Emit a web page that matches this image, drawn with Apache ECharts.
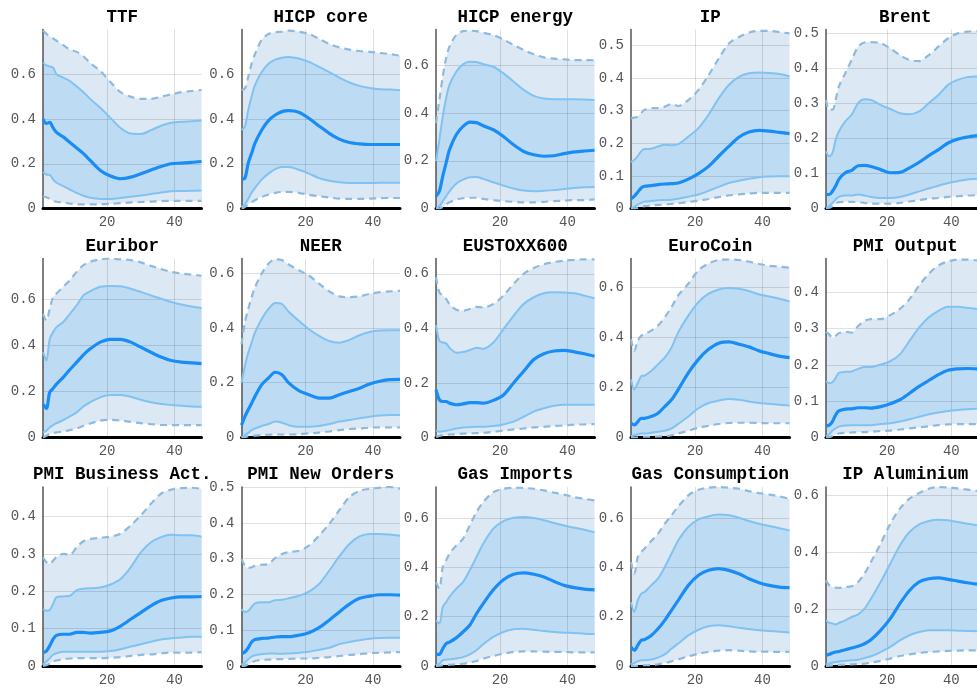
<!DOCTYPE html>
<html>
<head>
<meta charset="utf-8">
<title>Impulse responses</title>
<script src="https://cdn.jsdelivr.net/npm/echarts@6/dist/echarts.min.js"></script>
<style>
  html, body { margin: 0; padding: 0; background: #fff; }
  #chart { width: 977px; height: 691px; }
</style>
</head>
<body>
<div id="chart"></div>
<script>
// Forecast horizons at which the responses are recorded
const horizons = [1, 2, 3, 4, 5, 7, 9, 11, 13, 15, 18, 21, 24, 27, 30, 33, 36, 39, 42, 45, 48];

// TTF
const ttf_lo95 = [.055,.05,.043,.035,.03,.026,.022,.019,.018,.018,.019,.021,.024,.027,.029,.031,.033,.034,.034,.034,.034];
const ttf_lo68 = [.163,.152,.15,.13,.115,.10,.085,.07,.057,.048,.043,.043,.047,.053,.058,.065,.072,.077,.078,.079,.08];
const ttf_med  = [.40,.38,.385,.36,.34,.32,.295,.27,.245,.215,.17,.145,.133,.14,.155,.172,.188,.20,.203,.206,.21];
const ttf_hi68 = [.652,.64,.635,.63,.60,.585,.57,.545,.52,.49,.45,.405,.36,.335,.333,.35,.37,.383,.388,.39,.393];
const ttf_hi95 = [.795,.78,.77,.76,.75,.73,.71,.70,.68,.65,.615,.565,.52,.50,.49,.49,.50,.51,.52,.525,.53];

// HICP core
const core_lo95 = [0,.007,.018,.028,.037,.052,.062,.07,.074,.074,.07,.061,.055,.049,.044,.043,.043,.044,.046,.047,.047];
const core_lo68 = [.007,.018,.043,.07,.092,.129,.156,.176,.185,.185,.173,.156,.136,.124,.117,.114,.114,.114,.115,.115,.115];
const core_med  = [.132,.136,.203,.247,.292,.351,.393,.418,.433,.437,.43,.403,.369,.336,.31,.295,.289,.286,.286,.286,.286];
const core_hi68 = [.351,.366,.44,.50,.551,.61,.647,.665,.674,.677,.67,.655,.633,.61,.585,.563,.548,.539,.533,.532,.529];
const core_hi95 = [.529,.536,.588,.647,.69,.754,.78,.788,.79,.795,.79,.78,.758,.736,.72,.71,.704,.70,.695,.69,.683];

// HICP energy
const energy_lo95 = [0,0,.007,.017,.026,.038,.043,.045,.045,.04,.035,.031,.028,.026,.026,.028,.031,.033,.035,.035,.038];
const energy_lo68 = [0,.01,.031,.051,.072,.104,.121,.131,.132,.124,.11,.096,.084,.075,.072,.074,.077,.082,.086,.089,.09];
const energy_med  = [.051,.072,.135,.191,.246,.309,.344,.362,.36,.347,.33,.302,.267,.239,.225,.219,.221,.23,.237,.241,.244];
const energy_hi68 = [.198,.288,.386,.462,.518,.573,.604,.615,.614,.605,.594,.566,.532,.497,.472,.461,.458,.458,.458,.457,.455];
const energy_hi95 = [.358,.455,.553,.63,.678,.727,.743,.745,.743,.736,.727,.708,.685,.664,.646,.633,.628,.625,.622,.622,.621];

// IP
const ip_lo95 = [0,0,.002,.005,.007,.009,.011,.012,.014,.016,.02,.024,.029,.035,.04,.043,.046,.048,.048,.048,.048];
const ip_lo68 = [0,.005,.012,.017,.021,.023,.025,.026,.027,.03,.036,.043,.054,.066,.078,.085,.091,.096,.098,.099,.099];
const ip_med  = [.03,.038,.05,.063,.068,.07,.073,.075,.076,.078,.09,.107,.129,.16,.19,.218,.234,.239,.237,.233,.229];
const ip_hi68 = [.142,.149,.16,.175,.182,.183,.19,.195,.194,.197,.22,.246,.287,.337,.378,.403,.414,.416,.415,.412,.405];
const ip_hi95 = [.276,.278,.281,.292,.302,.307,.307,.312,.32,.314,.332,.363,.408,.459,.505,.525,.539,.544,.544,.54,.536];

// Brent
const brent_lo95 = [0,.002,.007,.014,.018,.019,.019,.018,.016,.014,.014,.014,.016,.02,.024,.028,.03,.033,.035,.037,.038];
const brent_lo68 = [0,.007,.016,.026,.033,.037,.037,.04,.037,.033,.03,.03,.033,.04,.049,.057,.065,.073,.078,.083,.085];
const brent_med  = [.04,.04,.049,.064,.083,.102,.109,.122,.123,.12,.111,.102,.103,.116,.132,.151,.168,.187,.198,.204,.208];
const brent_hi68 = [.163,.149,.158,.196,.22,.249,.268,.301,.312,.31,.296,.284,.272,.269,.277,.301,.324,.353,.367,.375,.377];
const brent_hi95 = [.31,.282,.282,.31,.348,.386,.424,.462,.474,.475,.472,.457,.438,.424,.421,.438,.462,.486,.50,.505,.507];

// Euribor
const euribor_lo95 = [0,.007,.015,.019,.022,.026,.032,.039,.051,.061,.073,.077,.074,.068,.062,.058,.055,.054,.054,.054,.054];
const euribor_lo68 = [.022,.029,.044,.054,.062,.076,.092,.109,.135,.153,.174,.184,.184,.177,.164,.153,.145,.141,.138,.135,.134];
const euribor_med  = [.145,.126,.196,.213,.232,.261,.295,.327,.359,.385,.414,.426,.426,.414,.392,.37,.349,.334,.327,.324,.321];
const euribor_hi68 = [.37,.334,.428,.458,.479,.501,.537,.574,.617,.635,.654,.658,.657,.646,.632,.617,.603,.588,.577,.569,.562];
const euribor_hi95 = [.537,.508,.559,.61,.625,.654,.683,.719,.748,.763,.773,.777,.773,.77,.76,.745,.731,.719,.712,.707,.702];

// NEER
const neer_lo95 = [0,.002,.005,.006,.007,.009,.01,.011,.011,.011,.012,.015,.018,.022,.027,.031,.033,.036,.037,.037,.037];
const neer_lo68 = [0,.009,.017,.027,.033,.042,.049,.058,.054,.045,.039,.039,.042,.049,.058,.064,.07,.076,.08,.082,.082];
const neer_med  = [.045,.076,.101,.125,.15,.193,.217,.238,.229,.199,.171,.156,.144,.144,.156,.168,.18,.195,.205,.211,.212];
const neer_hi68 = [.199,.26,.309,.346,.383,.432,.469,.491,.487,.459,.426,.395,.371,.352,.346,.356,.373,.385,.39,.391,.391];
const neer_hi95 = [.34,.42,.469,.512,.548,.598,.634,.65,.647,.631,.61,.591,.561,.533,.515,.512,.515,.524,.53,.533,.535];

// EUSTOXX600
const stoxx_lo95 = [.002,.006,.009,.01,.011,.012,.014,.015,.016,.017,.021,.025,.03,.033,.037,.039,.042,.044,.047,.048,.049];
const stoxx_lo68 = [.025,.021,.023,.025,.027,.033,.037,.038,.039,.039,.042,.048,.058,.076,.095,.107,.116,.12,.12,.12,.12];
const stoxx_med  = [.175,.138,.132,.132,.126,.12,.123,.128,.128,.126,.136,.156,.2,.243,.286,.307,.317,.319,.314,.307,.298];
const stoxx_hi68 = [.412,.354,.348,.345,.329,.311,.313,.32,.329,.325,.348,.397,.446,.489,.514,.529,.532,.531,.529,.52,.51];
const stoxx_hi95 = [.588,.532,.52,.508,.489,.468,.465,.471,.479,.477,.489,.52,.563,.60,.621,.635,.643,.648,.651,.653,.653];

// EuroCoin
const coin_lo95 = [0,0,.001,.003,.003,.003,.004,.005,.009,.016,.027,.039,.047,.054,.058,.059,.059,.058,.057,.057,.057];
const coin_lo68 = [.005,.009,.013,.016,.016,.019,.023,.027,.036,.054,.084,.117,.138,.148,.154,.151,.144,.138,.135,.131,.128];
const coin_med  = [.057,.05,.063,.077,.077,.084,.097,.124,.151,.192,.259,.313,.353,.378,.383,.374,.363,.347,.336,.326,.32];
const coin_hi68 = [.232,.192,.218,.245,.248,.266,.293,.32,.36,.421,.488,.542,.576,.593,.599,.596,.587,.573,.565,.556,.545];
const coin_hi95 = [.394,.347,.387,.407,.414,.428,.448,.481,.522,.569,.616,.67,.697,.711,.713,.711,.704,.695,.688,.684,.68];

// PMI Output
const pmio_lo95 = [0,.001,.004,.008,.011,.013,.014,.015,.015,.016,.018,.019,.022,.025,.028,.031,.034,.036,.037,.037,.037];
const pmio_lo68 = [.002,.009,.019,.025,.03,.033,.034,.034,.034,.034,.037,.039,.044,.05,.057,.064,.069,.073,.076,.078,.079];
const pmio_med  = [.032,.034,.044,.062,.073,.078,.079,.082,.082,.081,.085,.093,.104,.122,.141,.157,.173,.185,.189,.19,.189];
const pmio_hi68 = [.155,.15,.152,.164,.178,.181,.182,.189,.194,.194,.201,.21,.229,.266,.303,.331,.349,.36,.36,.357,.354];
const pmio_hi95 = [.291,.284,.275,.28,.287,.291,.289,.307,.321,.326,.326,.337,.354,.381,.419,.451,.474,.485,.49,.49,.488];

// PMI Business Act.
const pmib_lo95 = [0,.002,.006,.012,.015,.018,.02,.021,.021,.021,.021,.022,.024,.027,.03,.031,.034,.036,.036,.036,.037];
const pmib_lo68 = [.004,.012,.021,.03,.034,.038,.038,.038,.038,.038,.038,.04,.045,.052,.058,.065,.071,.074,.076,.078,.078];
const pmib_med  = [.036,.04,.054,.072,.082,.085,.085,.09,.09,.088,.09,.094,.107,.125,.143,.161,.175,.182,.185,.185,.186];
const pmib_hi68 = [.152,.148,.15,.166,.184,.186,.188,.203,.207,.208,.21,.218,.233,.264,.304,.331,.345,.351,.35,.35,.346];
const pmib_hi95 = [.291,.278,.273,.282,.291,.30,.298,.318,.334,.34,.343,.346,.354,.376,.403,.434,.461,.472,.476,.477,.474];

// PMI New Orders
const pmin_lo95 = [0,.001,.005,.009,.014,.017,.018,.019,.019,.02,.021,.021,.023,.025,.028,.031,.033,.036,.037,.038,.039];
const pmin_lo68 = [.003,.009,.019,.026,.03,.033,.035,.035,.034,.035,.037,.04,.045,.051,.061,.067,.072,.076,.078,.079,.079];
const pmin_med  = [.035,.039,.051,.067,.074,.077,.078,.081,.082,.082,.086,.093,.107,.128,.151,.173,.189,.195,.199,.199,.198];
const pmin_hi68 = [.159,.151,.154,.165,.175,.178,.178,.184,.185,.189,.196,.208,.229,.266,.306,.341,.362,.369,.369,.367,.364];
const pmin_hi95 = [.299,.28,.274,.276,.28,.283,.285,.302,.313,.318,.322,.336,.364,.397,.435,.472,.489,.495,.498,.50,.495];

// Gas Imports
const gimp_lo95 = [0,.001,.003,.004,.005,.007,.009,.014,.02,.03,.041,.05,.057,.059,.059,.058,.057,.057,.055,.055,.055];
const gimp_lo68 = [.003,.009,.023,.026,.027,.03,.036,.047,.064,.088,.118,.138,.149,.151,.147,.142,.138,.135,.134,.131,.13];
const gimp_med  = [.047,.047,.07,.091,.097,.114,.138,.165,.212,.253,.309,.35,.372,.378,.372,.361,.343,.327,.318,.312,.309];
const gimp_hi68 = [.185,.172,.239,.259,.28,.314,.34,.388,.442,.496,.557,.588,.601,.604,.60,.591,.58,.57,.561,.553,.543];
const gimp_hi95 = [.34,.314,.401,.428,.455,.489,.516,.57,.624,.665,.705,.719,.723,.722,.719,.712,.703,.695,.685,.678,.672];

// Gas Consumption
const gcon_lo95 = [0,0,.001,.003,.003,.004,.007,.012,.019,.027,.039,.05,.057,.062,.064,.062,.059,.058,.058,.057,.057];
const gcon_lo68 = [.007,.012,.019,.023,.023,.026,.034,.047,.07,.091,.124,.147,.161,.165,.161,.155,.15,.145,.142,.139,.136];
const gcon_med  = [.077,.064,.084,.104,.107,.124,.151,.185,.226,.266,.327,.368,.388,.395,.388,.374,.354,.338,.327,.32,.318];
const gcon_hi68 = [.259,.219,.266,.293,.30,.327,.354,.401,.455,.509,.564,.595,.607,.614,.611,.601,.588,.577,.568,.559,.55];
const gcon_hi95 = [.422,.374,.442,.462,.476,.507,.536,.577,.611,.647,.692,.715,.723,.726,.723,.719,.709,.701,.695,.688,.678];

// IP Aluminium
const alu_lo95 = [0,.001,.002,.002,.004,.005,.006,.007,.008,.012,.018,.026,.035,.041,.046,.049,.051,.053,.054,.055,.055];
const alu_lo68 = [.006,.008,.012,.014,.016,.018,.02,.022,.028,.034,.049,.067,.09,.108,.119,.125,.125,.125,.124,.123,.122];
const alu_med  = [.037,.041,.046,.049,.051,.057,.063,.069,.078,.092,.125,.166,.219,.265,.295,.306,.309,.304,.298,.292,.287];
const alu_hi68 = [.16,.151,.149,.146,.151,.16,.172,.181,.201,.236,.295,.359,.423,.47,.497,.509,.513,.511,.505,.499,.494];
const alu_hi95 = [.301,.283,.277,.275,.274,.277,.28,.295,.324,.365,.429,.499,.552,.587,.607,.622,.628,.626,.623,.619,.614];

// Panel titles, in reading order
const titles = ['TTF', 'HICP core', 'HICP energy', 'IP', 'Brent',
                'Euribor', 'NEER', 'EUSTOXX600', 'EuroCoin', 'PMI Output',
                'PMI Business Act.', 'PMI New Orders', 'Gas Imports', 'Gas Consumption', 'IP Aluminium'];

// Upper limit of each vertical axis (tight to the widest band)
const yMax = [0.8, 0.8, 0.75, 0.548, 0.511, 0.777, 0.653, 0.656, 0.717, 0.493, 0.479, 0.5, 0.726, 0.726, 0.628];

// Tick labels
const ticksTenths = [0, 0.2, 0.4, 0.6];
const ticksHalf = [0, 0.1, 0.2, 0.3, 0.4, 0.5];
const ticksFour = [0, 0.1, 0.2, 0.3, 0.4];
const yTicks = [ticksTenths, ticksTenths, ticksTenths, ticksHalf, ticksHalf,
                ticksTenths, ticksTenths, ticksTenths, ticksTenths, ticksFour,
                ticksFour, ticksHalf, ticksTenths, ticksTenths, ticksTenths];
const xTicks = [20, 40];

const bands = [
  [ttf_lo95, ttf_lo68, ttf_med, ttf_hi68, ttf_hi95],
  [core_lo95, core_lo68, core_med, core_hi68, core_hi95],
  [energy_lo95, energy_lo68, energy_med, energy_hi68, energy_hi95],
  [ip_lo95, ip_lo68, ip_med, ip_hi68, ip_hi95],
  [brent_lo95, brent_lo68, brent_med, brent_hi68, brent_hi95],
  [euribor_lo95, euribor_lo68, euribor_med, euribor_hi68, euribor_hi95],
  [neer_lo95, neer_lo68, neer_med, neer_hi68, neer_hi95],
  [stoxx_lo95, stoxx_lo68, stoxx_med, stoxx_hi68, stoxx_hi95],
  [coin_lo95, coin_lo68, coin_med, coin_hi68, coin_hi95],
  [pmio_lo95, pmio_lo68, pmio_med, pmio_hi68, pmio_hi95],
  [pmib_lo95, pmib_lo68, pmib_med, pmib_hi68, pmib_hi95],
  [pmin_lo95, pmin_lo68, pmin_med, pmin_hi68, pmin_hi95],
  [gimp_lo95, gimp_lo68, gimp_med, gimp_hi68, gimp_hi95],
  [gcon_lo95, gcon_lo68, gcon_med, gcon_hi68, gcon_hi95],
  [alu_lo95, alu_lo68, alu_med, alu_hi68, alu_hi95]
];

// Layout of the 3 x 5 panel grid
const colLeft = [43, 241.5, 436, 631, 826];
const rowTop = [29.5, 258.5, 487];
const panelW = 158.5;
const panelH = 179;

const monoFont = "'Courier New', 'Liberation Mono', monospace";
const outerFill = '#dce8f3';
const innerFill = '#bddcf3';
const outerLine = '#8dbbe0';
const innerLine = '#80c2f2';
const medianLine = '#1a8cf5';
const gridColor = 'rgba(0, 0, 0, 0.12)';
const SMOOTH = 0.3;

const pairs = arr => horizons.map((h, i) => [h, arr[i]]);

const grids = [], xAxes = [], yAxes = [], series = [], graphics = [];

titles.forEach((name, p) => {
  const r = Math.floor(p / 5), c = p % 5;
  const left = colLeft[c], top = rowTop[r];
  grids.push({ left: left, top: top, width: panelW, height: panelH, containLabel: false });

  // axes sit above the band fills so the grid stays visible through them
  xAxes.push({
    gridIndex: p, type: 'value', min: 1, max: 48, z: 4,
    axisLine: { show: true, onZero: false, lineStyle: { color: '#000', width: 3 } },
    axisTick: { show: false, customValues: xTicks },
    axisLabel: { customValues: xTicks, color: '#555', fontFamily: monoFont, fontSize: 14, margin: 7 },
    splitLine: { show: true, lineStyle: { color: gridColor, width: 1 } }
  });

  yAxes.push({
    gridIndex: p, type: 'value', min: 0, max: yMax[p], z: 4,
    axisLine: { show: true, lineStyle: { color: '#555', width: 1.5 } },
    axisTick: { show: false, customValues: yTicks[p] },
    axisLabel: {
      customValues: yTicks[p], color: '#555', fontFamily: monoFont, fontSize: 14, margin: 7,
      formatter: v => (v === 0 ? '0' : v.toFixed(1))
    },
    splitLine: { show: true, lineStyle: { color: gridColor, width: 1 } }
  });

  const [lo95, lo68, med, hi68, hi95] = bands[p];

  // Bands: each curve is filled down to zero, later layers cover earlier ones
  const fillBase = {
    type: 'line', xAxisIndex: p, yAxisIndex: p, smooth: SMOOTH, z: 1,
    symbol: 'none', silent: true, lineStyle: { width: 0, opacity: 0 }
  };
  [[hi95, outerFill], [hi68, innerFill], [lo68, outerFill], [lo95, '#ffffff']].forEach(([arr, col]) => {
    series.push(Object.assign({}, fillBase, {
      data: pairs(arr), areaStyle: { color: col, opacity: 1, origin: 'start' }
    }));
  });

  const lineBase = { type: 'line', xAxisIndex: p, yAxisIndex: p, smooth: SMOOTH, symbol: 'none', silent: true, z: 5 };
  [lo95, hi95].forEach(arr => series.push(Object.assign({}, lineBase, {
    data: pairs(arr), lineStyle: { color: outerLine, width: 2.2, type: [7, 5] }
  })));
  [lo68, hi68].forEach(arr => series.push(Object.assign({}, lineBase, {
    data: pairs(arr), lineStyle: { color: innerLine, width: 2 }
  })));
  series.push(Object.assign({}, lineBase, { data: pairs(med), lineStyle: { color: medianLine, width: 3.2 } }));

  graphics.push({
    type: 'text', x: left + panelW / 2, y: top - 12, silent: true,
    style: {
      text: name, fill: '#000', textAlign: 'center', textVerticalAlign: 'middle',
      font: 'bold 17.5px ' + monoFont
    }
  });
});

const chart = echarts.init(document.getElementById('chart'), null, { renderer: 'canvas' });
chart.setOption({
  animation: false,
  backgroundColor: '#fff',
  grid: grids,
  xAxis: xAxes,
  yAxis: yAxes,
  series: series,
  graphic: graphics
});
</script>
</body>
</html>
